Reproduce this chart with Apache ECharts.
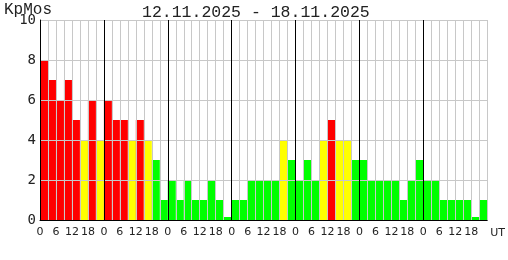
<!DOCTYPE html>
<html><head><meta charset="utf-8">
<script src="https://cdn.jsdelivr.net/npm/echarts@6/dist/echarts.min.js"></script>
<style>html,body{margin:0;padding:0;background:#fff}#c{width:508px;height:260px}</style>
</head><body><div id="c"></div>
<script>
const days = ['12.11','13.11','14.11','15.11','16.11','17.11','18.11'];
const slotHours = [0,3,6,9,12,15,18,21];
const kp = [
  8,7,6,7,5,4,6,4,
  6,5,5,4,5,4,3,1,
  2,1,2,1,1,2,1,0.15,
  1,1,2,2,2,2,4,3,
  2,3,2,4,5,4,4,3,
  3,2,2,2,2,1,2,3,
  2,2,1,1,1,1,0.15,1
];
const hourTicks = ['0','6','12','18'];
const yTicks = ['0','2','4','6','8','10'];
const titleText = '12.11.2025 - 18.11.2025';
const yName = 'KpMos';
const xUnit = 'UT';

const categories = days.flatMap(d => slotHours.map(h => d + ' ' + h + ':00'));
const nCat = categories.length;
const perDay = slotHours.length;
const totalHours = days.length * 24;
const GRAY = '#c8c8c8';
const splitColors = Array.from({length: nCat + 1}, (_, i) => (i % perDay === 0 && i < nCat) ? '#000' : GRAY);

const chart = echarts.init(document.getElementById('c'), null, {renderer: 'canvas'});
chart.setOption({
  animation: false,
  backgroundColor: '#fff',
  title: [
    {text: titleText, left: 142, top: 4, padding: 0,
     textStyle: {fontFamily: 'Liberation Mono', fontSize: 16.5, fontWeight: 'normal', color: '#222'}},
    {text: yName, left: 4, top: 2, padding: 0,
     textStyle: {fontFamily: 'Liberation Mono', fontSize: 16, fontWeight: 'normal', color: '#222'}}
  ],
  grid: {left: 40, top: 20, right: 20, bottom: 40, containLabel: false},
  xAxis: [
    {type: 'category', data: categories, boundaryGap: true, position: 'bottom', z: 5,
     axisLine: {show: true, lineStyle: {color: '#000', width: 1}},
     axisTick: {show: false}, axisLabel: {show: false},
     splitLine: {show: true, interval: 0, lineStyle: {color: splitColors, width: 1}}},
    {type: 'value', min: 0, max: totalHours, interval: 6, position: 'bottom',
     axisLine: {show: false}, axisTick: {show: false}, splitLine: {show: false},
     axisLabel: {show: true, margin: 7, fontFamily: 'DejaVu Sans', fontSize: 11, color: '#222',
       formatter: v => v >= totalHours ? '' : hourTicks[(v % 24) / 6]},
     name: xUnit, nameLocation: 'end', nameGap: 3,
     nameTextStyle: {fontFamily: 'DejaVu Sans', fontSize: 11, color: '#222', verticalAlign: 'top', padding: [8, 0, 0, 0]}}
  ],
  yAxis: {type: 'value', min: 0, max: 10, interval: 2, z: 5,
    axisLine: {show: true, lineStyle: {color: '#000', width: 1}},
    axisTick: {show: false},
    axisLabel: {margin: 4, fontFamily: 'DejaVu Sans Mono', fontSize: 14, color: '#222',
      padding: [3, 0, 0, 0],
      formatter: v => yTicks[v / 2]},
    splitLine: {show: true, lineStyle: {color: GRAY, width: 1}}},
  series: [{
    type: 'bar', xAxisIndex: 0, yAxisIndex: 0, data: kp,
    barCategoryGap: '0%', barGap: '0%',
    itemStyle: {color: p => p.value >= 5 ? '#ff0000' : (p.value >= 4 ? '#ffff00' : '#00ff00')}
  }]
});
</script></body></html>
